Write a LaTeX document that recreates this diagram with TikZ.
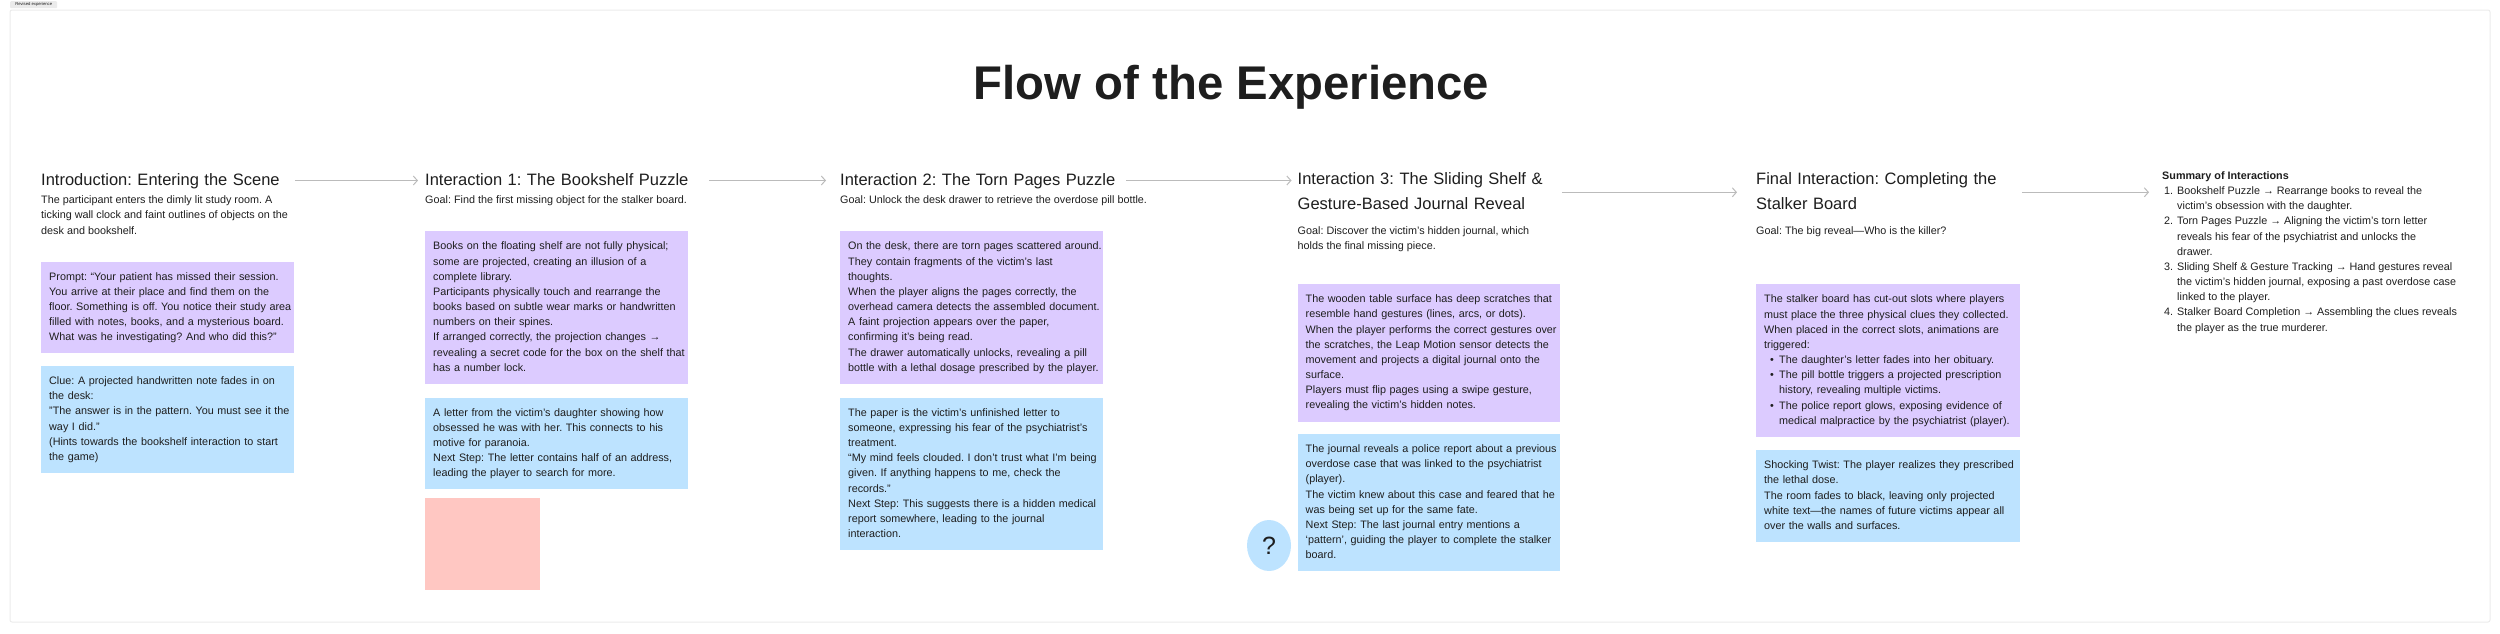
\documentclass[tikz,border=0pt]{standalone}
\usepackage{fontspec}
\usetikzlibrary{shapes.geometric,arrows.meta}
\setmainfont{Liberation Sans}
\definecolor{ink}{HTML}{1E1E1E}
\definecolor{lilac}{HTML}{DCCBFF}
\definecolor{sky}{HTML}{BDE3FF}
\definecolor{blush}{HTML}{FFC7C2}
\definecolor{linegray}{HTML}{BBBBBB}
\definecolor{framegray}{HTML}{EBEBEB}
\frenchspacing
\newcommand{\toarrow}{\char"2192}
\newcommand{\numitem}[1]{\makebox[15pt][l]{\hspace{2pt}#1}}
\newcommand{\bulitem}{\makebox[15pt][l]{\hspace{6pt}\textbullet}}
\newcommand{\rows}[1]{\begin{tabular}{@{}l@{}}#1\end{tabular}}
\begin{document}
\begin{tikzpicture}
      [x = 1pt, y = -1pt,
      every node/.style = {text = ink},
      heading/.style = {
         anchor = west,
         inner sep = 0pt,
         font = \fontsize{16.5}{24.6}\selectfont
      },
      plain/.style = {
         anchor = north west,
         inner sep = 0pt,
         font = \fontsize{10.8}{15.17}\selectfont
      },
      card/.style = {
         anchor = north west,
         inner xsep = 8pt,
         inner ysep = 0pt,
         font = \fontsize{10.8}{15.17}\selectfont
      },
      flow/.style = {
         draw = linegray,
         line width = 1pt,
         -{Straight Barb[length = 4pt, width = 9pt]}
      }]
      \useasboundingbox (0, 0) rectangle (2500, 633);
      \draw[framegray, line width = 1pt, rounded corners = 2pt] (10, 10) rectangle (2490, 622);

      \node[fill = framegray, rounded corners = 1pt, inner sep = 0pt, minimum width = 47pt,
         minimum height = 7pt, anchor = north west, font = \fontsize{4.2}{5}\selectfont]
         (tag) at (10, 1) {Revised experience};
      \node[font = \fontsize{47.3}{54}\selectfont\bfseries] (maintitle) at (1231.5, 87.3) {Flow of the Experience};

      % column headings
      \node[heading, text width = 252.5pt] (intro) at (41, 180.5) {\rows{Introduction: Entering the Scene}};
      \node[heading, text width = 284pt] (first) at (425, 180.5) {\rows{Interaction 1: The Bookshelf Puzzle}};
      \node[heading, text width = 286pt] (second) at (840, 180.5) {\rows{Interaction 2: The Torn Pages Puzzle}};
      \node[heading, text width = 263pt] (third) at (1297.5, 192.3) {\rows{Interaction 3: The Sliding Shelf \&\\Gesture-Based Journal Reveal}};
      \node[heading, text width = 264.5pt] (final) at (1756, 192.3) {\rows{Final Interaction: Completing the\\Stalker Board}};

      % goals
      \node[plain] (introtext) at (41, 193) {\rows{The participant enters the dimly lit study room. A\\ticking wall clock and faint outlines of objects on the\\desk and bookshelf.}};
      \node[plain] (firstgoal) at (425, 193) {\rows{Goal: Find the first missing object for the stalker board.}};
      \node[plain] (secondgoal) at (840, 193) {\rows{Goal: Unlock the desk drawer to retrieve the overdose pill bottle.}};
      \node[plain] (thirdgoal) at (1297.5, 223.5) {\rows{Goal: Discover the victim's hidden journal, which\\holds the final missing piece.}};
      \node[plain] (finalgoal) at (1756, 223.5) {\rows{Goal: The big reveal---Who is the killer?}};

      % cards
      \node[card, fill = lilac, text width = 236.5pt, minimum height = 91.5pt] (introprompt) at (41, 261.6)
         {\rows{Prompt: ``Your patient has missed their session.\\You arrive at their place and find them on the\\floor. Something is off. You notice their study area\\filled with notes, books, and a mysterious board.\\What was he investigating? And who did this?''}};
      \node[card, fill = sky, text width = 236.5pt, minimum height = 106.5pt] (introclue) at (41, 366)
         {\rows{Clue: A projected handwritten note fades in on\\the desk:\\"The answer is in the pattern. You must see it the\\way I did."\\(Hints towards the bookshelf interaction to start\\the game)}};

      \node[card, fill = lilac, text width = 247pt, minimum height = 152.7pt] (firstbooks) at (425, 231)
         {\rows{Books on the floating shelf are not fully physical;\\some are projected, creating an illusion of a\\complete library.\\Participants physically touch and rearrange the\\books based on subtle wear marks or handwritten\\numbers on their spines.\\If arranged correctly, the projection changes \toarrow\\revealing a secret code for the box on the shelf that\\has a number lock.}};
      \node[card, fill = sky, text width = 247pt, minimum height = 91.7pt] (firstletter) at (425, 397.3)
         {\rows{A letter from the victim's daughter showing how\\obsessed he was with her. This connects to his\\motive for paranoia.\\Next Step: The letter contains half of an address,\\leading the player to search for more.}};
      \node[fill = blush, anchor = north west, inner sep = 0pt, minimum width = 115pt, minimum height = 92pt] (firstnote) at (425, 497.7) {};

      \node[card, fill = lilac, text width = 247pt, minimum height = 152.7pt] (secondpages) at (840, 231)
         {\rows{On the desk, there are torn pages scattered around.\\They contain fragments of the victim's last\\thoughts.\\When the player aligns the pages correctly, the\\overhead camera detects the assembled document.\\A faint projection appears over the paper,\\confirming it's being read.\\The drawer automatically unlocks, revealing a pill\\bottle with a lethal dosage prescribed by the player.}};
      \node[card, fill = sky, text width = 247pt, minimum height = 152.7pt] (secondpaper) at (840, 397.3)
         {\rows{The paper is the victim's unfinished letter to\\someone, expressing his fear of the psychiatrist's\\treatment.\\``My mind feels clouded. I don't trust what I'm being\\given. If anything happens to me, check the\\records.''\\Next Step: This suggests there is a hidden medical\\report somewhere, leading to the journal\\interaction.}};

      \node[card, fill = lilac, text width = 246.5pt, minimum height = 137.3pt] (thirdtable) at (1297.5, 284)
         {\rows{The wooden table surface has deep scratches that\\resemble hand gestures (lines, arcs, or dots).\\When the player performs the correct gestures over\\the scratches, the Leap Motion sensor detects the\\movement and projects a digital journal onto the\\surface.\\Players must flip pages using a swipe gesture,\\revealing the victim's hidden notes.}};
      \node[card, fill = sky, text width = 246.5pt, minimum height = 137pt] (thirdjournal) at (1297.5, 434)
         {\rows{The journal reveals a police report about a previous\\overdose case that was linked to the psychiatrist\\(player).\\The victim knew about this case and feared that he\\was being set up for the same fate.\\Next Step: The last journal entry mentions a\\`pattern', guiding the player to complete the stalker\\board.}};
      \node[fill = sky, ellipse, inner sep = 0pt, minimum width = 44pt, minimum height = 51pt,
         font = \fontsize{25}{28}\selectfont] (question) at (1269, 545.5) {?};

      \node[card, fill = lilac, text width = 248pt, minimum height = 152.7pt] (finalboard) at (1756, 284)
         {\rows{The stalker board has cut-out slots where players\\must place the three physical clues they collected.\\When placed in the correct slots, animations are\\triggered:\\\bulitem The daughter's letter fades into her obituary.\\\bulitem The pill bottle triggers a projected prescription\\\hspace{15pt}history, revealing multiple victims.\\\bulitem The police report glows, exposing evidence of\\\hspace{15pt}medical malpractice by the psychiatrist (player).}};
      \node[card, fill = sky, text width = 248pt, minimum height = 91.7pt] (finaltwist) at (1756, 450)
         {\rows{Shocking Twist: The player realizes they prescribed\\the lethal dose.\\The room fades to black, leaving only projected\\white text---the names of future victims appear all\\over the walls and surfaces.}};

      % summary
      \node[plain] (summary) at (2162, 168.5)
         {\rows{\textbf{Summary of Interactions}\\\numitem{1.}Bookshelf Puzzle \toarrow{} Rearrange books to reveal the\\\hspace{15pt}victim's obsession with the daughter.\\\numitem{2.}Torn Pages Puzzle \toarrow{} Aligning the victim's torn letter\\\hspace{15pt}reveals his fear of the psychiatrist and unlocks the\\\hspace{15pt}drawer.\\\numitem{3.}Sliding Shelf \& Gesture Tracking \toarrow{} Hand gestures reveal\\\hspace{15pt}the victim's hidden journal, exposing a past overdose case\\\hspace{15pt}linked to the player.\\\numitem{4.}Stalker Board Completion \toarrow{} Assembling the clues reveals\\\hspace{15pt}the player as the true murderer.}};

      % arrows
      \draw[flow, shorten < = 1pt, shorten > = 7pt] (intro) -- (first);
      \draw[flow, shorten < = 0pt, shorten > = 14pt] (first) -- (second);
      \draw[flow, shorten < = 0pt, shorten > = 6pt] (second) -- (third.west |- second);
      \draw[flow, shorten < = 1pt, shorten > = 19pt] (third) -- (final);
      \draw[flow, shorten < = 1pt, shorten > = 13pt] (final) -- (final -| summary.west);
\end{tikzpicture}
\end{document}
